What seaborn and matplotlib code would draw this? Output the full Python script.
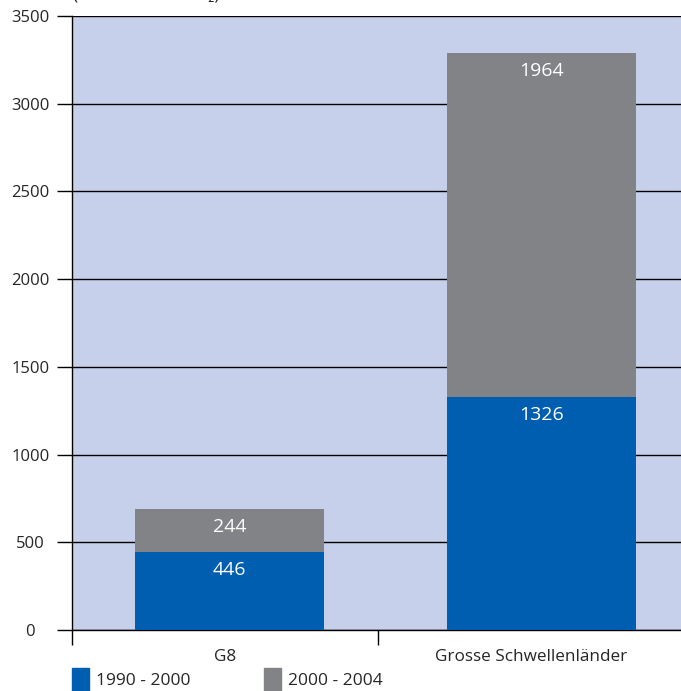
import matplotlib.pyplot as plt
import seaborn as sns
import pandas as pd
from matplotlib.patches import Patch

# %%
groups = ['G8', 'Grosse Schwellenländer']
period_1 = [446, 1326]
period_2 = [244, 1964]
series_names = ['1990 - 2000', '2000 - 2004']
y_ticks = [0, 500, 1000, 1500, 2000, 2500, 3000, 3500]
unit_text = '(Mio. Tonnen CO₂)'

blue = '#005EB0'
gray = '#828386'
bg = '#C6D0EA'

sns.set_style('white')
plt.rcParams['font.family'] = ['Open Sans', 'DejaVu Sans']

totals = [a + b for a, b in zip(period_1, period_2)]
df = pd.DataFrame({'group': groups, 'p1': period_1, 'total': totals})

# %%
fig = plt.figure(figsize=(6.81, 6.91), dpi=100)
ax = fig.add_axes([72/681, 61/691, 609/681, 614/691])
ax.set_facecolor(bg)

sns.barplot(data=df, x='group', y='total', color=gray, width=0.606,
            saturation=1, ax=ax, zorder=3, linewidth=0)
sns.barplot(data=df, x='group', y='p1', color=blue, width=0.606,
            saturation=1, ax=ax, zorder=3, linewidth=0)

for i in range(len(groups)):
    ax.annotate(str(period_1[i]), (i, period_1[i]), xytext=(0, -13),
                textcoords='offset points', ha='center', va='center',
                color='white', fontsize=14)
    ax.annotate(str(period_2[i]), (i, totals[i]), xytext=(0, -13),
                textcoords='offset points', ha='center', va='center',
                color='white', fontsize=14)

ax.set_xlim(-0.505, 1.447)
ax.set_ylim(0, 3500)
ax.set_yticks(y_ticks)
ax.set_yticklabels([str(t) for t in y_ticks], ha='center')
ax.tick_params(axis='y', length=11, width=1, color='black', pad=19,
               labelsize=12, left=True, direction='out')

# group labels sit in the middle of each group's section, not under the bar
ax.set_xticks([-0.505, 0.476])
ax.set_xticklabels(['', ''])
ax.set_xticks([-0.014, 0.966], minor=True)
ax.set_xticklabels(groups, minor=True)
ax.tick_params(axis='x', which='major', length=11, width=1, color='black',
               bottom=True, direction='out')
ax.tick_params(axis='x', which='minor', length=0, pad=14, labelsize=12.3)
ax.set_xlabel('')
ax.set_ylabel('')

ax.yaxis.grid(True, color='black', linewidth=1)
ax.set_axisbelow(True)
for s in ['top', 'right']:
    ax.spines[s].set_visible(False)
for s in ['left', 'bottom']:
    ax.spines[s].set_color('black')
    ax.spines[s].set_linewidth(1)

fig.text(73/681, 1.0, unit_text, fontsize=12.5, va='baseline', ha='left')

handles = [Patch(color=blue, label=series_names[0]),
           Patch(color=gray, label=series_names[1])]
fig.legend(handles=handles, loc='lower left', bbox_to_anchor=(72/681, 0.0),
           ncol=2, frameon=False, handlelength=1.0, handleheight=1.7,
           handletextpad=0.4, columnspacing=4.2, borderaxespad=0, borderpad=0,
           fontsize=12.5)

fig.savefig('out.png', dpi=100)
